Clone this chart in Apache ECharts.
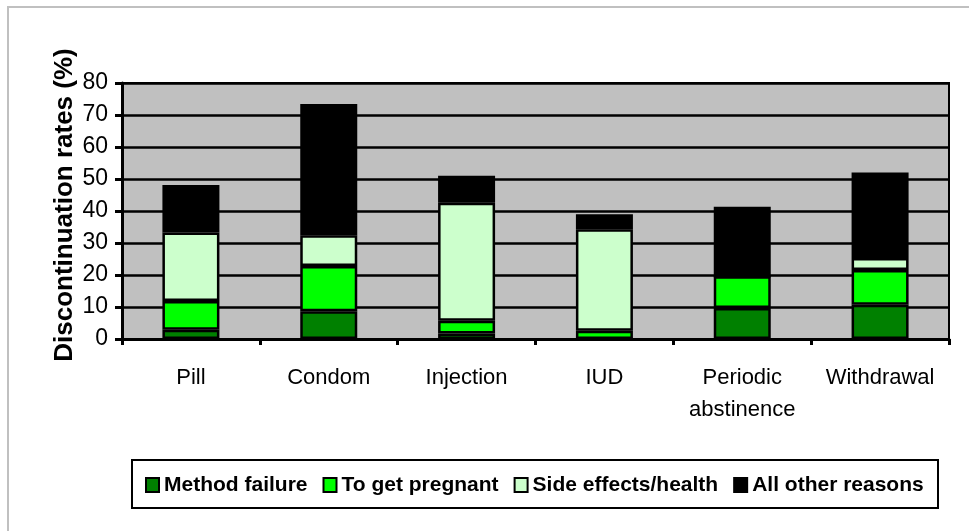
<!DOCTYPE html>
<html>
<head>
<meta charset="utf-8">
<script src="https://cdn.jsdelivr.net/npm/echarts@6/dist/echarts.min.js"></script>
<style>
html,body{margin:0;padding:0;background:#fff;}
#chart{width:969px;height:531px;}
</style>
</head>
<body>
<div id="chart"></div>
<script>
var categories = ['Pill', 'Condom', 'Injection', 'IUD', 'Periodic\nabstinence', 'Withdrawal'];
var seriesNames = ['Method failure', 'To get pregnant', 'Side effects/health', 'All other reasons'];
var methodFailure = [2.9, 8.7, 1.7, 0, 9.7, 10.7];
var toGetPregnant = [9.0, 14.1, 4.0, 2.6, 9.9, 10.9];
var sideEffects = [21.4, 9.6, 36.9, 31.7, 0, 3.7];
var otherReasons = [14.8, 41.0, 8.4, 4.7, 21.7, 26.7];
var yTicks = {min: 0, max: 80, interval: 10};
var colors = ['#008000', '#00ff00', '#ccffcc', '#000000'];

var FONT = "'Liberation Sans', Arial, sans-serif";
var values = [methodFailure, toGetPregnant, sideEffects, otherReasons];

var chart = echarts.init(document.getElementById('chart'), null, {renderer: 'canvas'});
var series = seriesNames.map(function (name, i) {
  return {
    name: name,
    type: 'bar',
    stack: 'total',
    barWidth: 57,
    data: values[i],
    itemStyle: {color: colors[i], borderColor: '#000', borderWidth: 2.5},
    emphasis: {disabled: true}
  };
});

chart.setOption({
  animation: false,
  backgroundColor: '#fff',
  graphic: [
    {type: 'rect', shape: {x: 8, y: 7, width: 980, height: 540}, style: {fill: 'none', stroke: '#c0c0c0', lineWidth: 2}, z: -10},
    {type: 'rect', shape: {x: 132, y: 460, width: 806, height: 48}, style: {fill: '#fff', stroke: '#000', lineWidth: 2}, z: -5}
  ],
  grid: {
    left: 122, right: 20, top: 83, bottom: 192,
    show: true, backgroundColor: '#c0c0c0', borderColor: '#000', borderWidth: 2
  },
  legend: {
    data: seriesNames,
    left: 140, top: 468,
    icon: 'rect',
    itemWidth: 13, itemHeight: 14, itemGap: 15,
    selectedMode: false,
    textStyle: {fontFamily: FONT, fontSize: 21, fontWeight: 'bold', color: '#000', lineHeight: 24}
  },
  xAxis: {
    type: 'category',
    data: categories,
    axisLine: {lineStyle: {color: '#000', width: 3}},
    axisTick: {show: true, length: 6, lineStyle: {color: '#000', width: 3}},
    axisLabel: {fontFamily: FONT, fontSize: 22, color: '#000', margin: 23, lineHeight: 32, interval: 0}
  },
  yAxis: {
    type: 'value',
    min: yTicks.min, max: yTicks.max, interval: yTicks.interval,
    name: 'Discontinuation rates (%)',
    nameLocation: 'middle',
    nameGap: 44,
    nameMoveOverlap: false,
    nameTextStyle: {fontFamily: FONT, fontSize: 26, fontWeight: 'bold', color: '#000', padding: [0, 0, 0, 12]},
    axisLine: {show: true, lineStyle: {color: '#000', width: 3}},
    axisTick: {show: true, length: 7, lineStyle: {color: '#000', width: 3}},
    axisLabel: {fontFamily: FONT, fontSize: 23, color: '#000', margin: 14},
    splitLine: {lineStyle: {color: '#000', width: 2.5}}
  },
  series: series
});
</script>
</body>
</html>
